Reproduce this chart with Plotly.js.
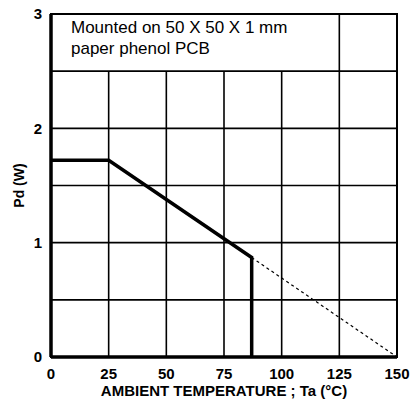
<!DOCTYPE html>
<html><head><meta charset="utf-8">
<script src="https://cdn.plot.ly/plotly-3.0.1.min.js"></script>
<style>html,body{margin:0;padding:0;background:#fff}</style>
</head><body>
<div id="chart" style="width:410px;height:400px"></div>
<script>
const solidX = [0, 25, 87, 87];
const solidY = [1.72, 1.72, 0.87, 0];
const dotX = [87, 150];
const dotY = [0.87, 0];
const xTicks = [0, 25, 50, 75, 100, 125, 150];
const yTicks = [0, 1, 2, 3];
const noteLines = ["Mounted on 50 X 50 X 1 mm", "paper phenol PCB"];

const FONT = 'Liberation Sans, Arial, sans-serif';
const traces = [
  {x: solidX, y: solidY, mode: 'lines', line: {color: '#000', width: 3.5}, hoverinfo: 'skip'},
  {x: dotX, y: dotY, mode: 'lines', line: {color: '#000', width: 1.2, dash: 'dot'}, hoverinfo: 'skip'}
];
const layout = {
  width: 410, height: 400,
  margin: {l: 51, r: 13, t: 14, b: 43},
  showlegend: false,
  paper_bgcolor: '#fff', plot_bgcolor: '#fff',
  font: {family: FONT, color: '#000'},
  xaxis: {range: [0, 150], tickvals: xTicks, ticktext: xTicks.map(String), showgrid: false, zeroline: false,
    showline: false, ticks: '', ticklabelstandoff: 6, tickfont: {size: 15, family: FONT, weight: 'bold'},
    title: {text: 'AMBIENT TEMPERATURE ; Ta (°C)', font: {size: 15, weight: 'bold'}, standoff: 2}},
  yaxis: {range: [0, 3], tickvals: yTicks, ticktext: yTicks.map(String), showgrid: false, zeroline: false,
    showline: false, ticks: '', ticklabelstandoff: 8, tickfont: {size: 15, family: FONT, weight: 'bold'},
    title: {text: 'Pd (W)', font: {size: 14, weight: 'bold'}, standoff: 5}},
  shapes: [],
  annotations: noteLines.map((t, i) => ({x: 8, y: 2.88 - i * 0.18, xref: 'x', yref: 'y', xanchor: 'left', yanchor: 'middle', align: 'left',
    text: t, showarrow: false, font: {size: 17, family: FONT}}))
};
// grid lines
[25, 50, 75, 100].forEach(v => layout.shapes.push({type: 'line', xref: 'x', yref: 'y', x0: v, x1: v, y0: 0, y1: 2.5, line: {color: '#000', width: 1.6}, layer: 'below'}));
layout.shapes.push({type: 'line', xref: 'x', yref: 'y', x0: 125, x1: 125, y0: 0, y1: 3, line: {color: '#000', width: 1.6}, layer: 'below'});
[0.5, 1, 1.5, 2, 2.5].forEach(v => layout.shapes.push({type: 'line', xref: 'x', yref: 'y', x0: 0, x1: 150, y0: v, y1: v, line: {color: '#000', width: 1.6}, layer: 'below'}));
// frame
layout.shapes.push({type: 'rect', xref: 'paper', yref: 'paper', x0: 0, x1: 1, y0: 0, y1: 1, line: {color: '#000', width: 2}, layer: 'above'});
layout.shapes.push({type: 'line', xref: 'paper', yref: 'paper', x0: 0, x1: 0, y0: 0, y1: 1, line: {color: '#000', width: 3.5}, layer: 'above'});
layout.shapes.push({type: 'line', xref: 'paper', yref: 'paper', x0: 0, x1: 1, y0: 0, y1: 0, line: {color: '#000', width: 3.5}, layer: 'above'});
Plotly.newPlot('chart', traces, layout, {staticPlot: true});
</script>
</body></html>
